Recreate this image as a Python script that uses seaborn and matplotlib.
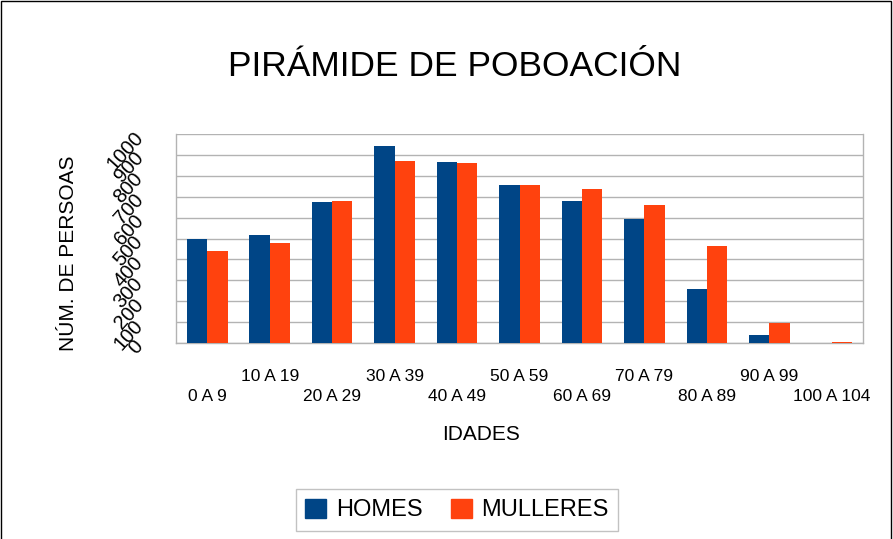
import matplotlib
matplotlib.use("Agg")
import matplotlib.pyplot as plt
import matplotlib.transforms as mtransforms
from matplotlib.patches import Rectangle
import seaborn as sns
import pandas as pd

categories = ["0 A 9", "10 A 19", "20 A 29", "30 A 39", "40 A 49", "50 A 59",
              "60 A 69", "70 A 79", "80 A 89", "90 A 99", "100 A 104"]
homes = [498, 517, 675, 943, 866, 756, 680, 594, 260, 40, 0]
mulleres = [441, 479, 680, 871, 861, 756, 737, 661, 465, 97, 3]
series_names = ["HOMES", "MULLERES"]
colors = ["#004586", "#FF420E"]
yticks = list(range(0, 1001, 100))

df = pd.DataFrame({
    "idade": categories * 2,
    "valor": homes + mulleres,
    "sexo": [series_names[0]] * len(categories) + [series_names[1]] * len(categories),
})

sns.set_style("white")
plt.rcParams["font.family"] = ["Liberation Sans", "DejaVu Sans"]
plt.rcParams["text.color"] = "black"
plt.rcParams["xtick.color"] = "black"
plt.rcParams["ytick.color"] = "black"
plt.rcParams["axes.labelcolor"] = "black"

fig = plt.figure(figsize=(8.93, 5.39), dpi=100)
ax = fig.add_axes([176 / 893, 1 - 343 / 539, (863 - 176) / 893, (343 - 134) / 539])

sns.barplot(data=df, x="idade", y="valor", hue="sexo", palette=colors,
            width=0.65, gap=0, saturation=1, ax=ax, legend=False, zorder=3,
            linewidth=0, edgecolor="none")

ax.set_ylim(0, 1000)
ax.set_xlim(-0.5, len(categories) - 0.5)
ax.set_yticks(yticks)
ax.set_yticklabels([str(v) for v in yticks], rotation=48, rotation_mode="anchor",
                   ha="right", va="center", fontsize=14.5)
ax.yaxis.grid(True, color="#b3b3b3", linewidth=1, zorder=0)
ax.set_axisbelow(True)
ax.tick_params(axis="y", length=0, pad=26)

# x ticks: labels at centers (staggered), tick marks at category boundaries
ax.set_xticks(range(len(categories)))
ax.set_xticklabels(categories, fontsize=12.5)
ax.tick_params(axis="x", which="major", length=0, pad=33)
ax.set_xticks([i - 0.5 for i in range(len(categories) + 1)], minor=True)
ax.tick_params(axis="x", which="minor", length=11, width=1, color="#b3b3b3")
for i, lab in enumerate(ax.get_xticklabels()):
    if i % 2 == 1:
        lab.set_transform(lab.get_transform() +
                          mtransforms.ScaledTranslation(0, 20 / 100, fig.dpi_scale_trans))

for side in ["left", "right", "bottom"]:
    ax.spines[side].set_color("#b3b3b3")
    ax.spines[side].set_linewidth(1)
ax.spines["top"].set_visible(False)

ax.set_xlabel("")
ax.set_ylabel("")
fig.text(481 / 893, 1 - 435 / 539, "IDADES", fontsize=15, ha="center", va="center")
fig.text(69 / 893, 1 - 253 / 539, "NÚM. DE PERSOAS", fontsize=15, ha="center",
         va="center", rotation=90)
fig.text(455 / 893, 1 - 66 / 539, "PIRÁMIDE DE POBOACIÓN", fontsize=25.5,
         ha="center", va="center")

handles = [Rectangle((0, 0), 1, 1, color=c) for c in colors]
leg = fig.legend(handles, series_names, loc="center", ncol=2,
                 bbox_to_anchor=(457 / 893, 1 - 510 / 539), fontsize=17,
                 frameon=True, fancybox=False, handlelength=0.9, handleheight=0.9,
                 handletextpad=0.4, columnspacing=1.2, borderpad=0.4)
leg.get_frame().set_edgecolor("#b3b3b3")
leg.get_frame().set_linewidth(1)

fig.patches.append(Rectangle((0.5 / 893, -0.01), 1 - 2.5 / 893, 1.01 - 0.5 / 539,
                             transform=fig.transFigure, fill=False,
                             edgecolor="black", linewidth=1))

fig.savefig("out.png", dpi=100)
